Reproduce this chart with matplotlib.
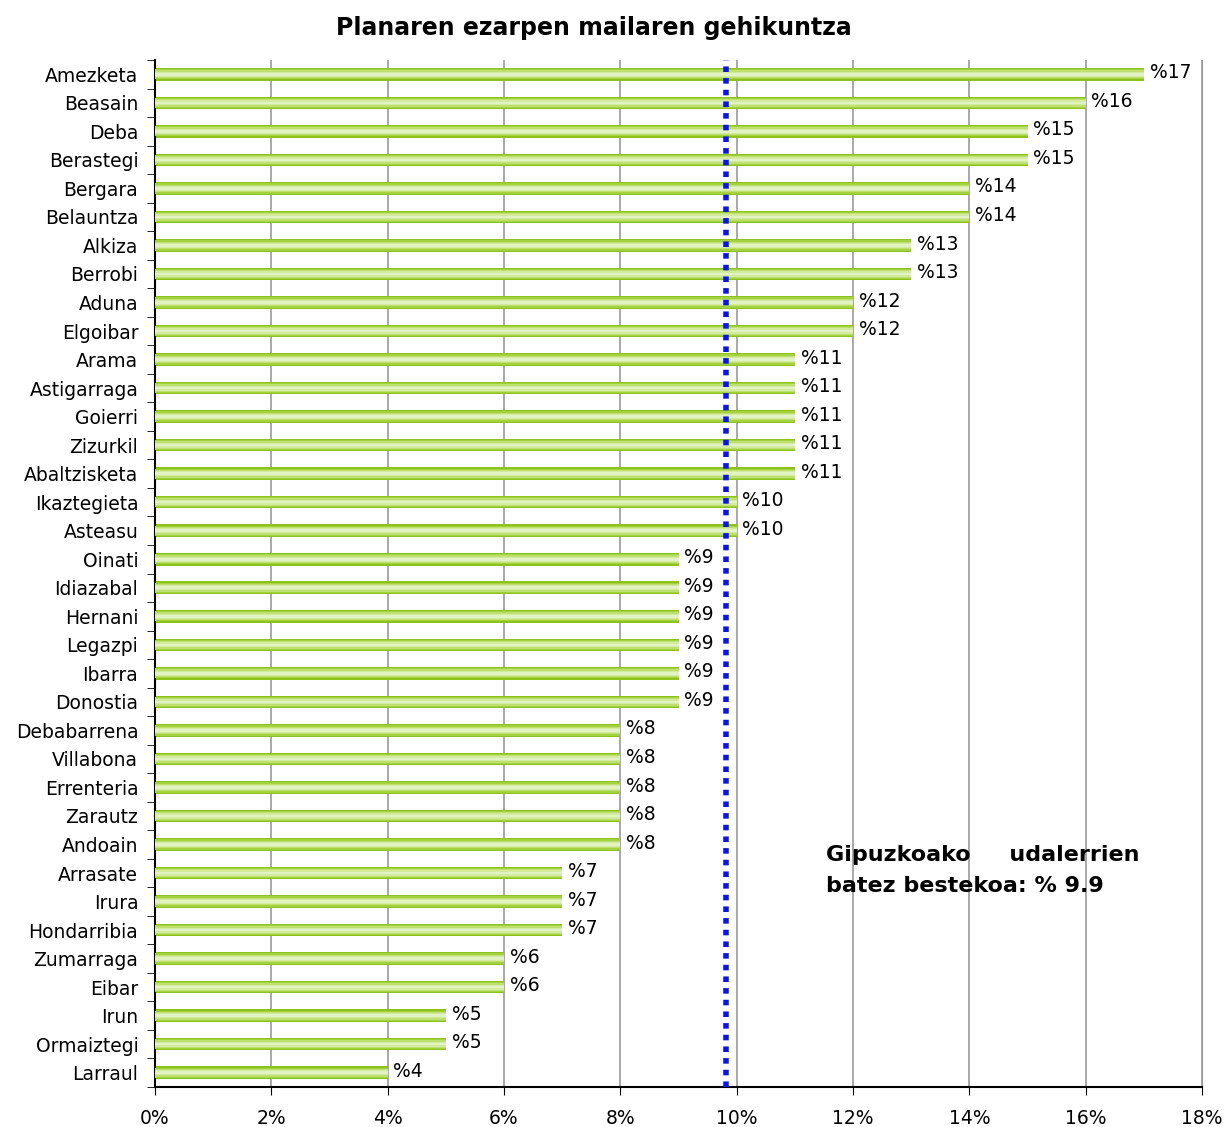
import matplotlib.pyplot as plt
import numpy as np

towns = ["Amezketa", "Beasain", "Deba", "Berastegi", "Bergara", "Belauntza",
         "Alkiza", "Berrobi", "Aduna", "Elgoibar", "Arama", "Astigarraga",
         "Goierri", "Zizurkil", "Abaltzisketa", "Ikaztegieta", "Asteasu",
         "Oinati", "Idiazabal", "Hernani", "Legazpi", "Ibarra", "Donostia",
         "Debabarrena", "Villabona", "Errenteria", "Zarautz", "Andoain",
         "Arrasate", "Irura", "Hondarribia", "Zumarraga", "Eibar", "Irun",
         "Ormaiztegi", "Larraul"]
values = [17, 16, 15, 15, 14, 14, 13, 13, 12, 12, 11, 11, 11, 11, 11, 10, 10,
          9, 9, 9, 9, 9, 9, 8, 8, 8, 8, 8, 7, 7, 7, 6, 6, 5, 5, 4]
average = 9.82
xticks = [0, 2, 4, 6, 8, 10, 12, 14, 16, 18]

fig = plt.figure(figsize=(12.27, 11.27), dpi=100)
ax = fig.add_axes([155 / 1227, 1 - 1087 / 1127, (1202 - 155) / 1227, (1087 - 60) / 1127])

y = np.arange(len(towns))
# bars with a soft gradient look
layers = [(0.44, "#8cc21a"), (0.36, "#a3d140"), (0.27, "#bde070"),
          (0.18, "#d3eb9e"), (0.09, "#e3f2c2")]
for k, (h, c) in enumerate(layers):
    ax.barh(y, values, height=h, color=c, zorder=2 + k)

for yi, v in zip(y, values):
    ax.text(v + 0.1, yi - 0.05, "%" + str(v), va="center", ha="left", fontsize=13.5, zorder=8)

ax.axvline(average, color="#0a14e6", linestyle=(0, (1, 1.1)), linewidth=4, zorder=9)

ax.set_xlim(0, 18)
ax.set_ylim(len(towns) - 0.5, -0.5)
ax.set_xticks(xticks)
ax.set_xticklabels([str(t) + "%" for t in xticks], fontsize=13.5)
ax.set_yticks(y)
ax.set_yticklabels(towns, fontsize=13.5)
ax.set_yticks(np.arange(len(towns) + 1) - 0.5, minor=True)
ax.tick_params(axis="y", which="major", length=0, pad=12)
ax.tick_params(axis="y", which="minor", length=6, direction="out")
ax.tick_params(axis="x", length=6, direction="out", pad=10)

ax.grid(axis="x", color="#999999", linewidth=1.2, zorder=0)
ax.set_axisbelow(True)
ax.spines["top"].set_visible(False)
ax.spines["right"].set_color("#999999")
ax.spines["left"].set_linewidth(1.5)
ax.spines["bottom"].set_linewidth(1.5)

fig.text(0.484, 1 - 28 / 1127, "Planaren ezarpen mailaren gehikuntza",
         ha="center", va="center", fontsize=17, fontweight="bold")
ax.text(11.54, 27.9, "Gipuzkoako     udalerrien\nbatez bestekoa: % 9.9",
        ha="left", va="center", fontsize=16, fontweight="bold", linespacing=1.7, zorder=10)

fig.savefig("out.png", dpi=100)
